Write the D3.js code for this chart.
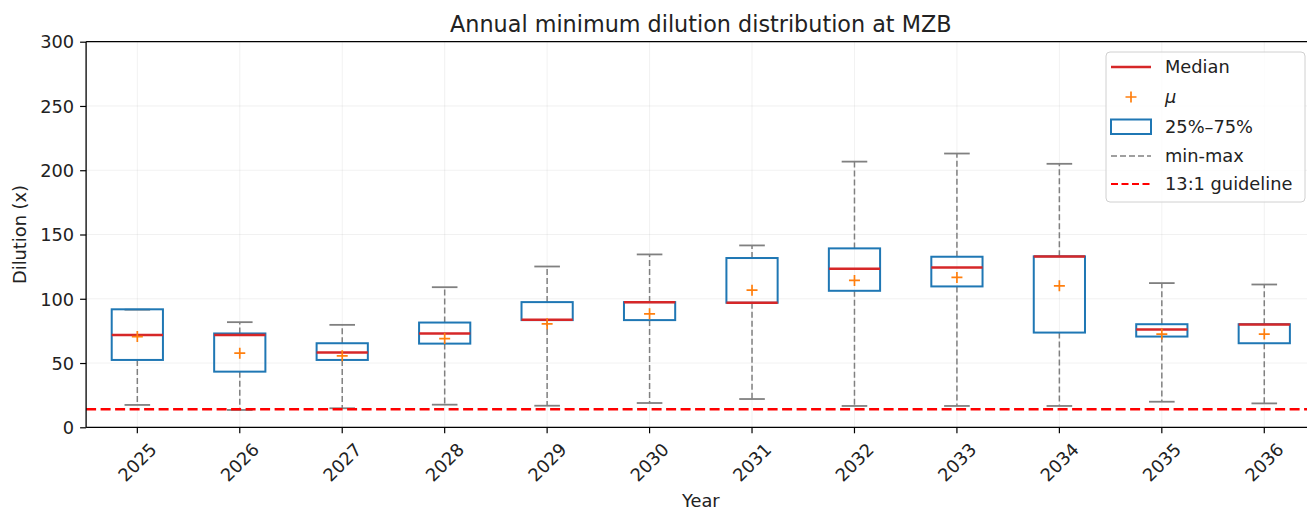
<!DOCTYPE html>
<html>
<head>
<meta charset="utf-8">
<script src="https://cdn.jsdelivr.net/npm/d3@7"></script>
<style>
  body { margin: 0; background: #fff; }
  svg { display: block; font-family: "DejaVu Sans", sans-serif; }
</style>
</head>
<body>
<div id="container"></div>
<script>
// values
var years = ["2025","2026","2027","2028","2029","2030","2031","2032","2033","2034","2035","2036"];
var minVals = [17.4, 13.5, 14.8, 17.6, 16.8, 18.9, 22.0, 16.6, 16.6, 16.6, 19.9, 18.6];
var q1Vals  = [52.4, 43.3, 52.4, 65.1, 83.4, 83.4, 96.9, 106.2, 109.6, 73.7, 70.6, 65.4];
var medVals = [71.9, 71.9, 58.1, 72.9, 83.6, 97.2, 96.9, 123.4, 124.4, 132.8, 76.1, 80.0];
var q3Vals  = [91.8, 73.0, 65.4, 81.5, 97.4, 97.4, 131.7, 139.2, 132.7, 133.0, 80.2, 80.2];
var maxVals = [91.5, 81.8, 79.7, 109.0, 125.1, 134.5, 141.5, 206.7, 213.0, 205.0, 112.2, 111.1];
var meanVals = [70.6, 57.7, 55.6, 69.0, 80.5, 88.3, 106.7, 114.3, 116.6, 110.1, 72.5, 72.5];
var guideline = 14;
var yTicks = [0, 50, 100, 150, 200, 250, 300];

var width = 1307, height = 510;
var plotL = 86.1, plotR = 1315.5, plotT = 41.7, plotB = 427.3;
var fs = 17.8;

var svg = d3.select("#container").append("svg")
  .attr("width", width).attr("height", height);

var x = d3.scaleBand().domain(years).range([plotL, plotR]).padding(0);
var y = d3.scaleLinear().domain([0, 300]).range([plotB, plotT]);
var cx = function(d) { return x(d) + x.bandwidth() / 2; };
var boxW = x.bandwidth() * 0.5, capW = x.bandwidth() * 0.25;

// grid
var grid = svg.append("g").attr("stroke", "#b0b0b0").attr("stroke-opacity", 0.18).attr("stroke-width", 1);
grid.selectAll("line.gx").data(years).join("line").attr("class", "gx")
  .attr("x1", cx).attr("x2", cx).attr("y1", plotT).attr("y2", plotB);
grid.selectAll("line.gy").data(yTicks).join("line").attr("class", "gy")
  .attr("x1", plotL).attr("x2", plotR).attr("y1", d => y(d)).attr("y2", d => y(d));

var data = years.map(function(yr, i) {
  return { year: yr, min: minVals[i], q1: q1Vals[i], med: medVals[i], q3: q3Vals[i], max: maxVals[i], mean: meanVals[i] };
});

var boxes = svg.append("g").selectAll("g").data(data).join("g");

// whiskers
boxes.append("line").attr("x1", d => cx(d.year)).attr("x2", d => cx(d.year))
  .attr("y1", d => y(d.q1)).attr("y2", d => y(d.min))
  .attr("stroke", "#808080").attr("stroke-width", 1.5).attr("stroke-dasharray", "6,3");
boxes.append("line").attr("x1", d => cx(d.year)).attr("x2", d => cx(d.year))
  .attr("y1", d => y(d.q3)).attr("y2", d => y(d.max))
  .attr("stroke", "#808080").attr("stroke-width", 1.5).attr("stroke-dasharray", "6,3");
// caps
["min", "max"].forEach(function(k) {
  boxes.append("line")
    .attr("x1", d => cx(d.year) - capW / 2).attr("x2", d => cx(d.year) + capW / 2)
    .attr("y1", d => y(d[k])).attr("y2", d => y(d[k]))
    .attr("stroke", "#808080").attr("stroke-width", 1.8);
});
// box
boxes.append("rect")
  .attr("x", d => cx(d.year) - boxW / 2).attr("width", boxW)
  .attr("y", d => y(d.q3)).attr("height", d => y(d.q1) - y(d.q3))
  .attr("fill", "none").attr("stroke", "#1f77b4").attr("stroke-width", 2);
// median
boxes.append("line")
  .attr("x1", d => cx(d.year) - boxW / 2).attr("x2", d => cx(d.year) + boxW / 2)
  .attr("y1", d => y(d.med)).attr("y2", d => y(d.med))
  .attr("stroke", "#d62728").attr("stroke-width", 2.5);
// mean marker
boxes.append("path")
  .attr("d", d => "M" + (cx(d.year) - 5.5) + "," + y(d.mean) + "h11M" + cx(d.year) + "," + (y(d.mean) - 5.5) + "v11")
  .attr("stroke", "#ff7f0e").attr("stroke-width", 1.7).attr("fill", "none");

// guideline
svg.append("line").attr("x1", plotL).attr("x2", plotR)
  .attr("y1", y(guideline)).attr("y2", y(guideline))
  .attr("stroke", "#ff0000").attr("stroke-width", 2.4).attr("stroke-dasharray", "10,4.5");

// axes
var yAxis = svg.append("g").attr("transform", "translate(" + plotL + ",0)")
  .call(d3.axisLeft(y).tickValues(yTicks).tickSize(6).tickPadding(6).tickFormat(d3.format("d")));
var xAxis = svg.append("g").attr("transform", "translate(0," + plotB + ")")
  .call(d3.axisBottom(x).tickSize(6).tickPadding(6));
[yAxis, xAxis].forEach(function(a) {
  a.select(".domain").remove();
  a.selectAll(".tick line").attr("stroke", "#000").attr("stroke-width", 1.2);
  a.selectAll("text").attr("fill", "#222").style("font-size", fs + "px").style("font-family", "DejaVu Sans");
});
yAxis.selectAll("text").attr("dy", "0.35em");
xAxis.selectAll("text")
  .attr("y", 0).attr("dy", "0.36em")
  .attr("text-anchor", "middle")
  .attr("transform", "translate(0,35) rotate(-45)");

// spines
var sp = svg.append("g").attr("stroke", "#000").attr("stroke-width", 1.3);
sp.append("line").attr("x1", plotL).attr("x2", plotL).attr("y1", plotT).attr("y2", plotB);
sp.append("line").attr("x1", plotL).attr("x2", plotR).attr("y1", plotB).attr("y2", plotB);
sp.append("line").attr("x1", plotL).attr("x2", plotR).attr("y1", plotT).attr("y2", plotT);

// titles
svg.append("text").attr("x", (plotL + plotR) / 2).attr("y", 32).attr("text-anchor", "middle")
  .style("font-size", "22.3px").attr("fill", "#222").text("Annual minimum dilution distribution at MZB");
svg.append("text").attr("x", (plotL + plotR) / 2).attr("y", 507).attr("text-anchor", "middle")
  .style("font-size", fs + "px").attr("fill", "#222").text("Year");
svg.append("text").attr("transform", "translate(26," + ((plotT + plotB) / 2) + ") rotate(-90)")
  .attr("text-anchor", "middle").style("font-size", fs + "px").attr("fill", "#222").text("Dilution (x)");

// legend
var lg = svg.append("g");
lg.append("rect").attr("x", 1106).attr("y", 52).attr("width", 199).attr("height", 150)
  .attr("rx", 4).attr("fill", "#fff").attr("fill-opacity", 0.8).attr("stroke", "#d0d0d0").attr("stroke-width", 1);
var hx0 = 1111, hx1 = 1151, tx = 1165;
var rows = [
  { label: "Median", y: 67 },
  { label: "\u03bc", y: 97, italic: true },
  { label: "25%\u201375%", y: 127 },
  { label: "min-max", y: 156 },
  { label: "13:1 guideline", y: 184 }
];
lg.append("line").attr("x1", hx0).attr("x2", hx1).attr("y1", rows[0].y).attr("y2", rows[0].y)
  .attr("stroke", "#d62728").attr("stroke-width", 2.5);
lg.append("path").attr("d", "M" + (hx0 + 20 - 5.5) + "," + rows[1].y + "h11M" + (hx0 + 20) + "," + (rows[1].y - 5.5) + "v11")
  .attr("stroke", "#ff7f0e").attr("stroke-width", 1.7);
lg.append("rect").attr("x", hx0).attr("y", rows[2].y - 7.5).attr("width", hx1 - hx0).attr("height", 14.5)
  .attr("fill", "none").attr("stroke", "#1f77b4").attr("stroke-width", 2);
lg.append("line").attr("x1", hx0).attr("x2", hx1).attr("y1", rows[3].y).attr("y2", rows[3].y)
  .attr("stroke", "#808080").attr("stroke-width", 1.5).attr("stroke-dasharray", "6,3");
lg.append("line").attr("x1", hx0).attr("x2", hx1).attr("y1", rows[4].y).attr("y2", rows[4].y)
  .attr("stroke", "#ff0000").attr("stroke-width", 2).attr("stroke-dasharray", "7,3.5");
lg.selectAll("text").data(rows).join("text")
  .attr("x", tx).attr("y", d => d.y).attr("dy", "0.36em")
  .style("font-size", fs + "px").style("font-style", d => d.italic ? "italic" : "normal")
  .attr("fill", "#222").text(d => d.label);
</script>
</body>
</html>
